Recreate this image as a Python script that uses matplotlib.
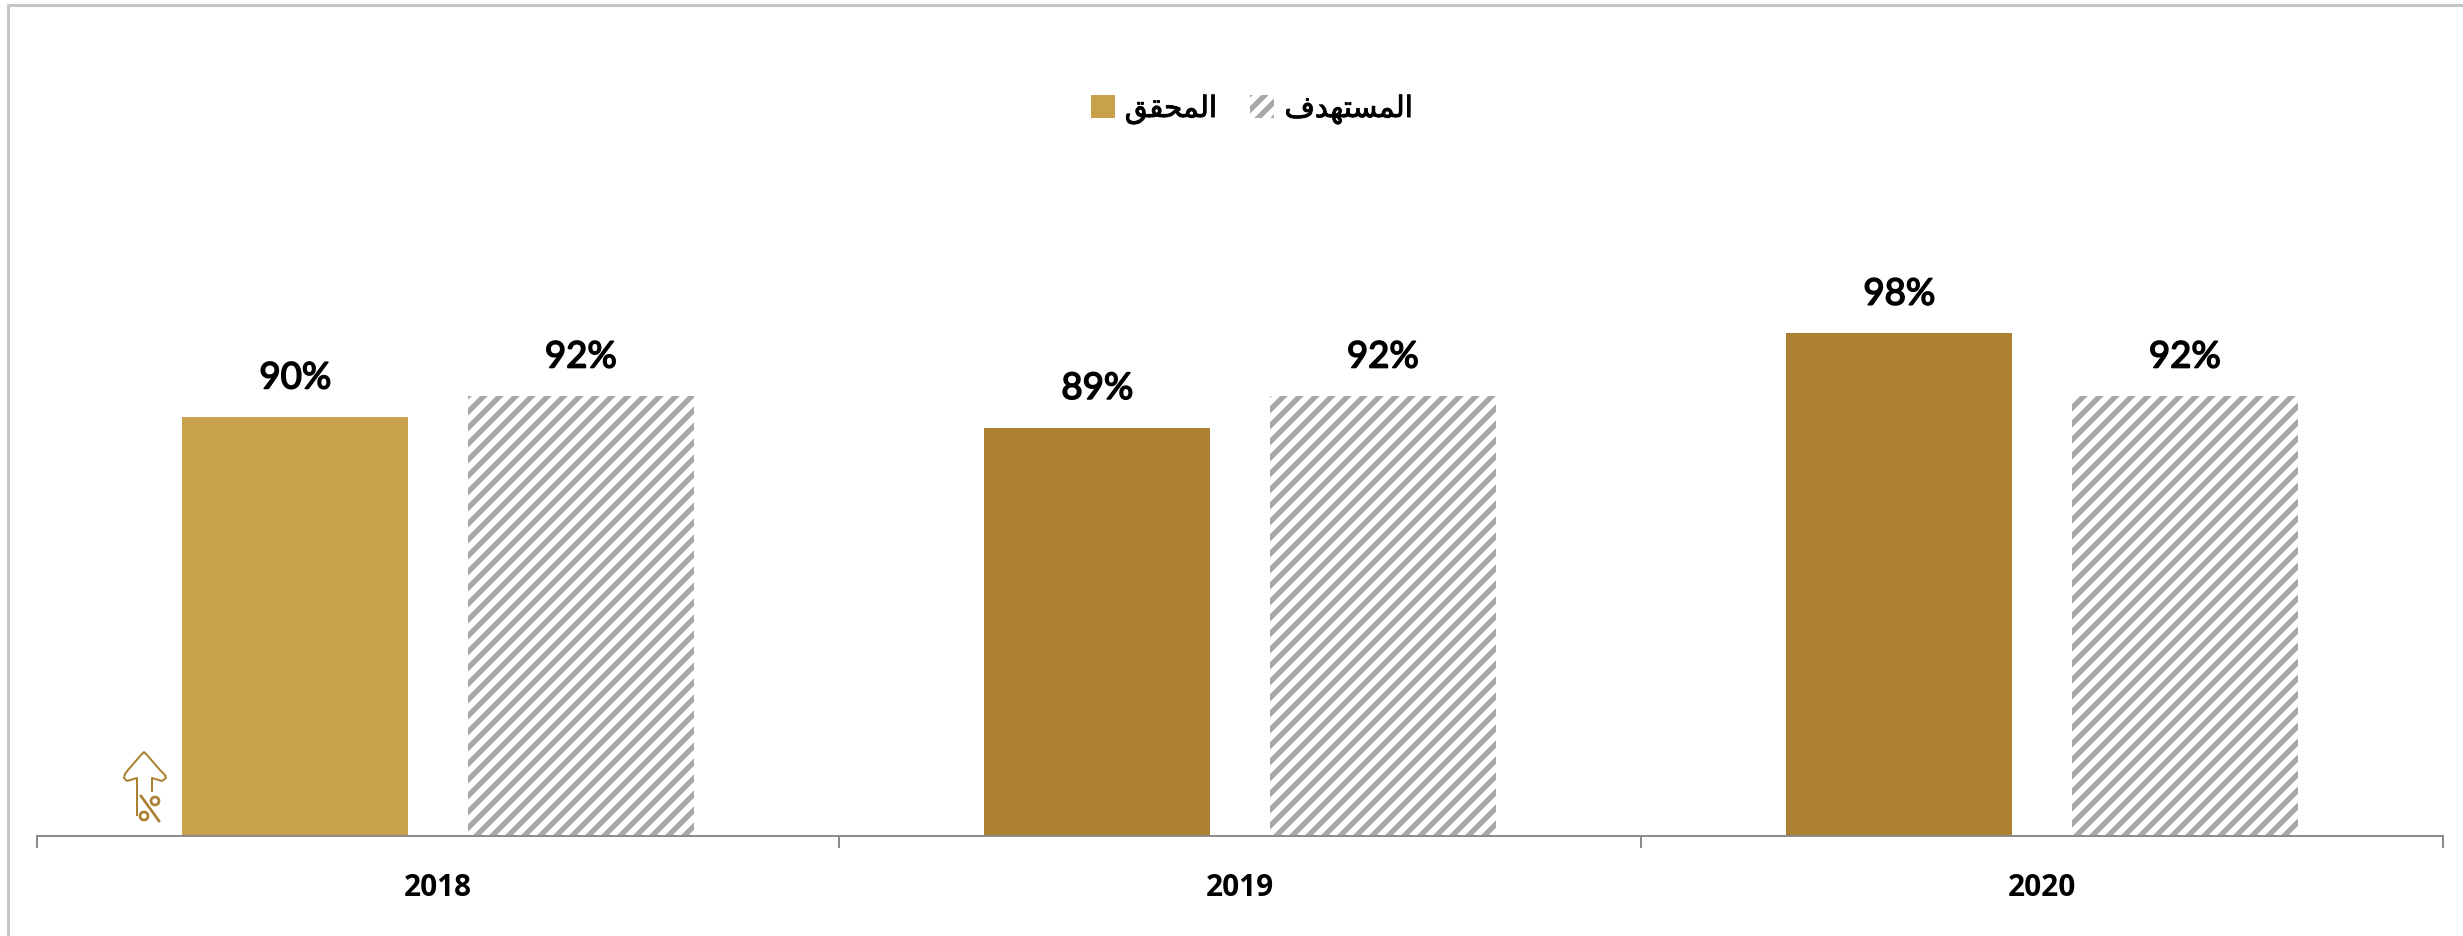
import matplotlib
matplotlib.use("Agg")
import matplotlib.pyplot as plt
import matplotlib.patheffects as pe
from matplotlib.lines import Line2D
from matplotlib.patches import Circle, Patch
import numpy as np

# data
years = ["2018", "2019", "2020"]
actual = [90, 89, 98]
target = [92, 92, 92]
# Arabic in presentation forms, stored in drawing order since matplotlib does not shape it
label_actual = "\ufed6\ufed8\ufea4\ufee4\ufedf\ufe8d"  # المحقق
label_target = "\ufed1\ufeaa\ufeec\ufe98\ufeb4\ufee4\ufedf\ufe8d"  # المستهدف

W, H = 2463, 936
DPI = 96
GOLD_LIGHT = "#c9a14d"
GOLD = "#ab8032"
GRAY = "#a8a8a8"

plt.rcParams["hatch.linewidth"] = 4.0

fig = plt.figure(figsize=(W / DPI, H / DPI), dpi=DPI, facecolor="white")
ax = fig.add_axes([37 / W, 1 - 836 / H, (2443 - 37) / W, 733 / H])

x = np.arange(len(years)) + 0.5
bar_w = 0.2818
off = 0.178

actual_bars = ax.bar(x - off, actual, bar_w, color=GOLD, linewidth=0)
# first year is a lighter gold
actual_bars[0].set_facecolor(GOLD_LIGHT)
target_bars = ax.bar(x + off, target, bar_w, facecolor="white", edgecolor=GRAY,
                     hatch="//", linewidth=0)

for bars, vals in ((actual_bars, actual), (target_bars, target)):
    for b, v in zip(bars, vals):
        t = ax.annotate(f"{v}%", (b.get_x() + b.get_width() / 2, v), xytext=(0, 21.5),
                        textcoords="offset points", ha="center", va="baseline",
                        fontsize=27.5, family="Lato", color="black")
        t.set_path_effects([pe.withStroke(linewidth=1.2, foreground="black")])

ax.set_xlim(0, 3)
ax.set_ylim(50, 120)
ax.set_yticks([])
for s in ("top", "left", "right"):
    ax.spines[s].set_visible(False)
ax.spines["bottom"].set_color("#8c8c8c")
ax.spines["bottom"].set_linewidth(1.5)

# ticks on group edges, year labels in the middle of each group
ax.set_xticks(range(len(years) + 1))
ax.set_xticklabels([])
ax.tick_params(axis="x", which="major", length=9, width=1.5, color="#8c8c8c")
ax.set_xticks(x, minor=True)
ax.set_xticklabels(years, minor=True, fontsize=22.3, family="Open Sans", fontweight="bold")
ax.tick_params(axis="x", which="minor", length=0, pad=27.5)

handles = [Patch(facecolor=GOLD_LIGHT, linewidth=0),
           Patch(facecolor="white", edgecolor=GRAY, hatch="//", linewidth=0)]
fs = 22
leg = ax.legend(handles, [label_actual, label_target], ncols=2, frameon=False,
                loc="center", bbox_to_anchor=(1252 / W, 1 - 109.5 / H),
                bbox_transform=fig.transFigure,
                handlelength=18 / fs, handleheight=18 / fs,
                handletextpad=7.5 / fs, columnspacing=25 / fs,
                prop={"family": "DejaVu Sans", "size": fs})
for t in leg.get_texts():
    t.set_path_effects([pe.withStroke(linewidth=0.7, foreground="black")])

# overlay in pixel coordinates for the page frame and the small arrow icon
ov = fig.add_axes([0, 0, 1, 1], facecolor="none")
ov.set_xlim(0, W)
ov.set_ylim(H, 0)
ov.axis("off")

ov.add_line(Line2D([8, 8, W], [H, 4.5, 4.5], color="#c4c4c4", linewidth=2.2))

arrow_x = [137, 137, 127, 124, 125, 128, 141, 144, 147, 160, 165, 166, 162, 152, 152]
arrow_y = [815, 778, 781, 778, 774, 770, 755, 752, 755, 770, 775, 778, 781, 778, 791]
ov.add_line(Line2D(arrow_x, arrow_y, color=GOLD, linewidth=1.5, solid_joinstyle="round"))
ov.add_line(Line2D([141, 159], [796, 821], color=GOLD, linewidth=2))
ov.add_patch(Circle((155, 801), 4, fill=False, edgecolor=GOLD, linewidth=2))
ov.add_patch(Circle((144, 816), 4, fill=False, edgecolor=GOLD, linewidth=2))

fig.savefig("out.png", dpi=DPI)
